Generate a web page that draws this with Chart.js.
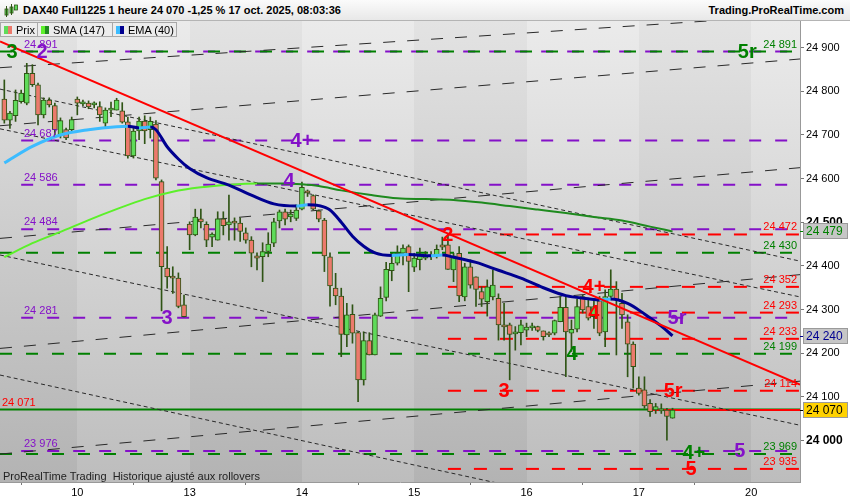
<!DOCTYPE html>
<html><head><meta charset="utf-8">
<script src="https://cdn.jsdelivr.net/npm/chart.js@4/dist/chart.umd.min.js"></script>
<style>
html,body{margin:0;padding:0;background:#fff;}
#wrap{position:relative;width:850px;height:500px;overflow:hidden;font-family:Arial,"Liberation Sans",sans-serif;}
#c{position:absolute;left:0;top:0;}
#hdr{position:absolute;left:0;top:0;width:850px;height:20px;background:linear-gradient(#fbfbfb,#e8e8e8);border-bottom:1px solid #b4b4b4;}
#title{position:absolute;left:23px;top:4px;font-weight:bold;font-size:11px;color:#000;white-space:nowrap;}
#site{position:absolute;right:6px;top:4px;font-weight:bold;font-size:11px;color:#000;}
#ico{position:absolute;left:4px;top:3px;width:14px;height:15px;}
.leg{position:absolute;top:22px;height:15px;background:#ececec;border:1px solid #a8a8a8;font-size:11px;line-height:15px;color:#000;box-sizing:border-box;white-space:nowrap;}
.leg i{position:absolute;left:3px;top:3px;width:4px;height:8px;}
.leg b{position:absolute;left:7px;top:3px;width:4px;height:8px;}
.leg span{position:absolute;left:15px;top:0;}
#note{position:absolute;left:3px;top:470px;font-size:11px;color:#222;white-space:nowrap;}
</style></head>
<body>
<div id="wrap">
<canvas id="c" width="850" height="500"></canvas>
<div id="hdr">
  <svg id="ico" viewBox="0 0 14 15"><rect x="1" y="6" width="3" height="6" fill="#5fdb5a" stroke="#2f5415" stroke-width="0.8"/><line x1="2.5" y1="3" x2="2.5" y2="14" stroke="#2f5415"/><rect x="6" y="4" width="3" height="6" fill="#5fdb5a" stroke="#2f5415" stroke-width="0.8"/><line x1="7.5" y1="1" x2="7.5" y2="12" stroke="#2f5415"/><rect x="10.5" y="2" width="3" height="5" fill="#5fdb5a" stroke="#2f5415" stroke-width="0.8"/></svg>
  <div id="title">DAX40 Full1225 1 heure 24 070 -1,25 % 17 oct. 2025, 08:03:36</div>
  <div id="site">Trading.ProRealTime.com</div>
</div>
<div class="leg" style="left:0;width:38px;"><i style="background:#5fdb5a"></i><b style="background:#ec7a6c"></b><span>Prix</span></div>
<div class="leg" style="left:37px;width:76px;"><i style="background:#5cf02a"></i><b style="background:#1e8a1e"></b><span>SMA (147)</span></div>
<div class="leg" style="left:112px;width:65px;"><i style="background:#3cbcff"></i><b style="background:#000090"></b><span>EMA (40)</span></div>
<div id="note">ProRealTime Trading&nbsp; Historique ajusté aux rollovers</div>
</div>
<script>
// ---- data ----
const dayLabels = ['10','13','14','15','16','17','20'];
const dayStart  = [13,33,53,73,93,113,133];
const yTicks = [24000,24100,24200,24300,24400,24500,24600,24700,24800,24900];

const candleO = [24782,24734,24744,24776,24773,24841,24815,24746,24780,24767,24700,24712,24712,
 24782,24771,24773,24769,24765,24727,24757,24757,24755,24730,24652,24709,24732,24712,24725,24593,24395,24375,24372,24311,
 24496,24471,24508,24495,24466,24459,24508,24494,24501,24498,24476,24459,24423,24421,24433,24452,24503,24524,24512,24509,
 24530,24572,24561,24526,24505,24421,24349,24331,24242,24289,24247,24139,24229,24196,24285,24328,24389,24406,24429,24444,
 24397,24414,24418,24421,24423,24448,24448,24391,24429,24329,24398,24375,24341,24318,24329,24326,24265,24265,24244,24247,
 24253,24258,24261,24251,24244,24246,24272,24305,24246,24255,24330,24307,24284,24320,24249,24330,24347,24314,24272,24221,
 24120,24116,24085,24070,24068,24070,24051];
const candleH = [24826,24754,24803,24803,24864,24861,24819,24785,24785,24773,24739,24716,24741,
 24787,24780,24778,24776,24776,24762,24775,24784,24774,24741,24716,24741,24744,24741,24733,24597,24444,24398,24384,24333,
 24501,24530,24530,24501,24476,24524,24524,24562,24510,24510,24487,24467,24430,24453,24476,24509,24528,24530,24528,24540,
 24592,24574,24563,24528,24509,24430,24383,24349,24314,24311,24249,24249,24247,24292,24352,24408,24429,24446,24448,24448,
 24429,24441,24433,24433,24448,24466,24471,24429,24444,24406,24414,24375,24352,24368,24391,24336,24314,24269,24261,24276,
 24269,24269,24262,24251,24249,24276,24330,24330,24276,24324,24333,24322,24322,24330,24345,24391,24364,24337,24288,24226,
 24146,24146,24094,24085,24084,24074,24074];
const candleL = [24727,24715,24731,24773,24769,24811,24723,24739,24764,24696,24693,24689,24707,
 24746,24767,24760,24762,24731,24718,24742,24757,24727,24647,24647,24689,24680,24693,24597,24297,24349,24337,24304,24283,
 24437,24469,24487,24444,24444,24459,24471,24459,24459,24456,24452,24398,24391,24364,24421,24444,24487,24494,24501,24504,
 24528,24559,24528,24501,24387,24308,24311,24192,24215,24223,24089,24127,24196,24196,24284,24320,24366,24402,24402,24341,
 24387,24391,24414,24414,24418,24437,24392,24364,24318,24320,24349,24307,24307,24285,24322,24230,24230,24139,24207,24219,
 24238,24252,24249,24230,24238,24242,24272,24146,24204,24249,24292,24276,24257,24240,24215,24322,24196,24257,24146,24120,
 24104,24074,24055,24062,24062,24001,24051];
const candleC = [24734,24750,24779,24796,24841,24815,24746,24780,24769,24712,24733,24693,24735,
 24773,24776,24764,24770,24746,24757,24758,24780,24729,24652,24709,24732,24709,24731,24601,24398,24375,24372,24307,24284,
 24471,24512,24501,24459,24473,24508,24492,24501,24498,24479,24459,24429,24418,24433,24450,24501,24524,24507,24519,24528,
 24580,24567,24530,24507,24423,24354,24331,24243,24288,24246,24139,24229,24196,24288,24326,24392,24406,24429,24441,24410,
 24418,24423,24424,24425,24438,24443,24392,24423,24331,24398,24356,24346,24324,24352,24356,24265,24260,24243,24249,24265,
 24260,24260,24252,24238,24242,24275,24305,24249,24255,24307,24299,24280,24307,24246,24330,24347,24322,24288,24221,24169,
 24108,24079,24066,24078,24069,24055,24070];

const smaK = [0,5,10,15,20,25,30,35,40,45,50,53,56,60,65,70,75,80,85,90,95,100,105,110,115,119];
const smaV = [24420,24452,24478,24505,24530,24553,24570,24580,24586,24589,24589,24587,24583,24573,24563,24555,24553,24551,24545,24537,24529,24521,24512,24504,24490,24479];
const emaK = [0,5,10,15,20,22,24,26,27,29,31,33,36,40,44,48,52,54,56,58,60,62,64,66,69,72,76,78,80,84,88,92,96,100,104,106,108,111,114,117,119];
const emaV = [24636,24674,24700,24712,24719,24720,24716,24718,24712,24673,24645,24623,24602,24585,24562,24542,24537,24540,24538,24528,24500,24468,24445,24430,24424,24426,24423,24425,24420,24408,24390,24372,24350,24332,24325,24322,24324,24314,24290,24262,24240];

const purpleLevels = [24891,24687,24586,24484,24281,23976];
const greenLevels  = [24891,24430,24199,23969];
const redLevels    = [24472,24352,24293,24233,24114,23935];
const pivotLevel = 24071;
const redStart = 79, purpleStart = 3;

// trend lines: [k0, v0, k1, v1]
const redTrend = [-0.77,24914,141.7,24128];
const longDash = [[-0.77,24854,141.7,24975],[-0.77,24721,141.7,24874],[-0.77,24463,141.7,24625],[-0.77,24211,141.7,24380],[-0.77,23969,141.7,24136]];
const shortDash = [[-0.77,24805,141.7,24411],[-0.77,24714,141.7,24329],[-0.77,24425,141.7,24035],[-0.77,24150,141.7,23752]];

// wave marks: text, colour key, candle index, level
const marks = [
 ['3','g',1.4,24891],['2','p',6.7,24891],['4+','p',53,24687],['4','p',50.7,24596],['3','p',29,24281],
 ['5r','p',119.8,24281],['5','p',131,23978],['5r','g',132.3,24891],['4','g',101.1,24199],['4+','g',122.8,23972],
 ['2','r',79,24472],['3','r',89,24114],['4+','r',105,24352],['4','r',105,24293],['5r','r',119.1,24114],['5','r',122.3,23937]
];

// ---- styles ----
const X0 = -0.77, X1 = 141.7;
const PURPLE = '#8411c8', GREEN = '#008000', RED = '#ff0000';
const COL = {p:PURPLE, g:GREEN, r:RED};
const upC = '#5fdb5a', dnC = '#ec7a6c', edge = '#2f5415';
const FONT = 'Arial, "Liberation Sans", sans-serif';
const fmt = v => { const s = String(Math.round(v)); return s.slice(0,-3) + ' ' + s.slice(-3); };

function seg(k0,v0,k1,v1,color,width,dash,order){
  return {type:'line', data:[{x:k0,y:v0},{x:k1,y:v1}], borderColor:color, borderWidth:width,
    borderDash:dash, pointRadius:0, fill:false, order:order};
}
const ds = [];
greenLevels.forEach(v => ds.push(seg(X0,v,X1,v,GREEN,2,[12,14],7)));
purpleLevels.forEach(v => ds.push(seg(purpleStart,v,X1,v,PURPLE,2,[12,14],7)));
redLevels.forEach(v => ds.push(seg(redStart,v,X1,v,RED,2,[13,13],7)));
ds.push(seg(X0,pivotLevel,X1,pivotLevel,GREEN,2,[],7));
ds.push(seg(115,candleC[candleC.length-1],X1,candleC[candleC.length-1],RED,2,[],6));
longDash.forEach(l => ds.push(seg(l[0],l[1],l[2],l[3],'#2a2a2a',1,[12,12],5)));
shortDash.forEach(l => ds.push(seg(l[0],l[1],l[2],l[3],'#2a2a2a',1,[4,3],5)));
const idx = candleO.map((_,i)=>i);
ds.push({type:'bar', data: idx.map(i=>({x:i,y:[candleL[i],candleH[i]]})), backgroundColor:edge,
  barThickness:1, grouped:false, order:4});
ds.push({type:'bar', data: idx.map(i=>({x:i,y:[candleO[i],candleC[i]]})),
  backgroundColor: idx.map(i=>candleC[i]>=candleO[i]?upC:dnC), borderColor:edge, borderWidth:1,
  borderSkipped:false, barThickness:5, grouped:false, minBarLength:2, order:3});
ds.push({type:'line', data: smaK.map((k,i)=>({x:k,y:smaV[i]})), borderWidth:2, pointRadius:0,
  cubicInterpolationMode:'monotone', borderColor:'#1e8a1e',
  segment:{borderColor:c => c.p1.parsed.y > c.p0.parsed.y ? '#5cf02a' : '#1e8a1e'}, order:2});
ds.push({type:'line', data: emaK.map((k,i)=>({x:k,y:emaV[i]})), borderWidth:3, pointRadius:0,
  cubicInterpolationMode:'monotone', borderColor:'#000090',
  segment:{borderColor:c => c.p1.parsed.y > c.p0.parsed.y ? '#3cbcff' : '#000090'}, order:1});
ds.push(seg(redTrend[0],redTrend[1],redTrend[2],redTrend[3],RED,2,[],0));

const bands = {
  id:'bands',
  beforeDraw(chart){
    const {ctx, chartArea:a, scales:{x}} = chart;
    ctx.save();
    ctx.fillStyle='#fff'; ctx.fillRect(0,0,chart.width,chart.height);
    const edges = [a.left, ...dayStart.map(d=>x.getPixelForValue(d)), a.right];
    for(let i=0;i<edges.length-1;i++){
      const g = ctx.createLinearGradient(0,a.top,0,a.bottom);
      if(i%2===0){ g.addColorStop(0,'#e3e3e3'); g.addColorStop(1,'#b3b3b3'); }
      else { g.addColorStop(0,'#ebebeb'); g.addColorStop(1,'#bdbdbd'); }
      ctx.fillStyle=g;
      const l = Math.round(edges[i]), r = Math.round(Math.min(edges[i+1],a.right));
      ctx.fillRect(l, a.top, r-l, a.bottom-a.top);
    }
    ctx.restore();
  }
};
const texts = {
  id:'texts',
  afterDatasetsDraw(chart){
    const {ctx, chartArea:a, scales:{x,y}} = chart;
    ctx.save();
    ctx.beginPath(); ctx.rect(a.left,a.top,a.right-a.left,a.bottom-a.top); ctx.clip();
    ctx.font = '11px '+FONT; ctx.textBaseline='alphabetic';
    ctx.textAlign='left'; ctx.fillStyle=PURPLE;
    purpleLevels.forEach(v => ctx.fillText(fmt(v), 24, y.getPixelForValue(v)-4));
    ctx.fillStyle=RED; ctx.fillText(fmt(pivotLevel), 2, y.getPixelForValue(pivotLevel)-4);
    ctx.textAlign='right';
    greenLevels.forEach(v => { ctx.fillStyle=GREEN; ctx.fillText(fmt(v), a.right-3, y.getPixelForValue(v)-4); });
    redLevels.forEach(v => { ctx.fillStyle=RED; ctx.fillText(fmt(v), a.right-3, y.getPixelForValue(v)-4); });
    ctx.font = 'bold 20px '+FONT; ctx.textAlign='center'; ctx.textBaseline='middle';
    marks.forEach(m => { ctx.fillStyle=COL[m[1]]; ctx.fillText(m[0], x.getPixelForValue(m[2]), y.getPixelForValue(m[3])+1); });
    ctx.restore();
  },
  afterDraw(chart){
    const {ctx, chartArea:a, scales:{y}} = chart;
    const boxes = [[smaV[smaV.length-1],'#c6c6c6',GREEN],[emaV[emaV.length-1],'#c6c6c6','#000090'],[candleC[candleC.length-1],'#ffd200','#000']];
    ctx.save();
    ctx.font='12px '+FONT; ctx.textBaseline='middle'; ctx.textAlign='left';
    boxes.forEach(b => {
      const py = Math.round(y.getPixelForValue(b[0]));
      ctx.fillStyle=b[1]; ctx.fillRect(a.right+3, py-8, 45, 16);
      ctx.strokeStyle='#9a9a9a'; ctx.lineWidth=1; ctx.strokeRect(a.right+3.5, py-7.5, 44, 15);
      ctx.fillStyle=b[2]; ctx.fillText(fmt(b[0]), a.right+6, py+1);
      ctx.fillRect(a.right, py, 3, 1);
    });
    ctx.restore();
  }
};

new Chart(document.getElementById('c'), {
  type:'bar',
  data:{datasets:ds},
  options:{
    responsive:false, animation:false, devicePixelRatio:1,
    layout:{padding:{top:21,left:0,right:0,bottom:0}, autoPadding:false},
    plugins:{legend:{display:false}, tooltip:{enabled:false}},
    scales:{
      x:{type:'linear', min:X0, max:X1, offset:false,
         afterBuildTicks: s => { s.ticks = dayStart.map(v=>({value:v})); },
         afterFit: s => { s.height = 18; },
         ticks:{autoSkip:false, maxRotation:0, padding:1, color:'#000', font:{family:FONT,size:11},
                callback: v => { const i = dayStart.indexOf(v); return i>=0 ? dayLabels[i] : ''; }},
         grid:{drawOnChartArea:false, drawTicks:true, tickLength:3, color:'#777'},
         border:{display:true, color:'#999'}},
      y:{type:'linear', position:'right', min:23905, max:24961,
         afterBuildTicks: s => { s.ticks = yTicks.map(v=>({value:v})); },
         afterFit: s => { s.width = 50; },
         ticks:{padding:2, color:'#000', callback: v => fmt(v),
                font: c => (c.tick && c.tick.value % 500 === 0) ? {family:FONT,size:12,weight:'bold'} : {family:FONT,size:11}},
         grid:{drawOnChartArea:false, drawTicks:true, tickLength:4, color:'#777'},
         border:{display:true, color:'#999'}}
    }
  },
  plugins:[bands, texts]
});
</script>
</body></html>
